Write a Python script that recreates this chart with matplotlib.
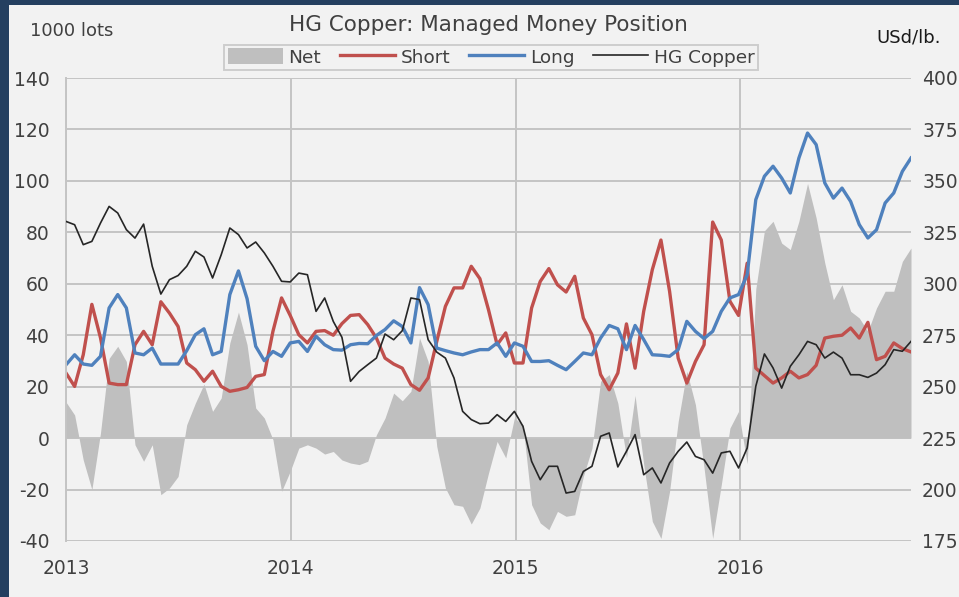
import pandas as pd
import matplotlib
matplotlib.use('Agg')
import matplotlib.pyplot as plt
import matplotlib.dates as mdates
from matplotlib.patches import Patch, Rectangle
from matplotlib.lines import Line2D

plt.rcParams['font.family'] = ['DejaVu Sans']
plt.rcParams['axes.unicode_minus'] = False

# fortnightly COT readings, 2013-01-01 .. 2016-10-04
dates = pd.date_range('2013-01-01', periods=99, freq='14D')

net = [14, 9, -8.5, -20, 2, 31, 35.7, 29.8, -2.6, -9, -2.6, -22, -19.4, -14.9, 5.2, 13.6,
       21, 10.4, 15.6, 37, 49, 36.3, 11.7, 7.8, -0.6, -20.7, -12.9, -3.9, -2.6, -3.9, -6.2, -5.2,
       -8.5, -9.7, -10.3, -9, 1.3, 7.8, 17.5, 14.5, 18.2, 38.9, 29.8, -3.2, -19.4, -25.9, -26.5, -33.4,
       -27.2, -13.6, -1.3, -7.7, 7.8, 5.2, -25.9, -33, -35.6, -28.5, -30.4, -29.8, -14.9, -3.9, 22.1, 24.7,
       13.6, -7.7, 16.6, -10.3, -32.4, -39, -20.7, 6.5, 26, 13, -11.6, -39, -18.1, 3.9, 10.4, -10,
       58, 80.6, 84.3, 75.8, 73.3, 84.3, 99, 85.6, 68.1, 53.8, 59.6, 49.3, 46.7, 41.5, 50.6, 57.1,
       57.1, 68.7, 73.9]

short = [25.3, 20.1, 32.4, 52, 39, 21.4, 20.8, 20.8, 36.3, 41.5, 36.3, 53, 48.6, 43.4, 29.2, 26.6,
         22.1, 26, 20.1, 18.2, 18.8, 19.7, 24, 24.7, 41.5, 54.5, 47.7, 40.2, 37, 41.5, 41.8, 40,
         44.5, 47.7, 48, 44.1, 38.9, 31.1, 28.8, 27.2, 20.8, 18.6, 23.4, 37.6, 51.2, 58.4, 58.4, 66.8,
         62, 49.9, 36.3, 40.9, 29.2, 29.2, 50.6, 60.9, 65.9, 59.6, 56.8, 62.9, 46.7, 40.2, 24.7, 18.8,
         25.3, 44.4, 27.2, 49.3, 65.5, 77, 57.1, 31.1, 21.4, 29.8, 36.3, 84, 77, 53.2, 47.7, 68,
         27.2, 24.3, 21.4, 23.4, 26, 23.4, 24.7, 28.3, 38.9, 39.6, 40, 42.8, 38.9, 45, 30.5, 31.8,
         37, 34.8, 33.5]

long_ = [28.5, 32.4, 28.8, 28.3, 31.8, 50.6, 55.8, 50.6, 33.1, 32.4, 35, 28.8, 28.8, 28.8, 34, 40.2,
         42.5, 32.4, 33.7, 55.8, 65, 54.2, 35.7, 30.1, 33.7, 31.8, 37, 37.6, 33.7, 39.6, 36.3, 34.4,
         34.2, 36.3, 36.8, 36.7, 39.9, 42.2, 45.6, 43.4, 37, 58.5, 51.9, 35, 34, 33.1, 32.4, 33.5,
         34.4, 34.4, 37, 31.8, 37, 35.7, 29.8, 29.8, 30.1, 28.3, 26.6, 29.8, 33.1, 32.4, 38.9, 43.8,
         42.5, 34.4, 43.8, 38.3, 32.4, 32.2, 31.8, 34.4, 45.4, 41.5, 38.7, 41.5, 49.3, 54.5, 55.8, 63.5,
         92.7, 101.8, 105.7, 101.1, 95.3, 108.9, 118.6, 114.1, 99.2, 93.3, 97.2, 92, 83, 77.8, 81, 91.4,
         95.3, 103.7, 108.9]

copper = [330.3, 328.7, 319, 320.6, 329.5, 337.6, 334.4, 326.3, 322.2, 329, 308.5, 295, 302, 304, 308.5, 315.8,
          313, 302.8, 314.1, 327.1, 323.9, 317.4, 320.3, 315, 308.5, 301.2, 300.9, 305.2, 304.4, 286.6, 293.1, 281.7,
          274, 252.6, 257.4, 260.7, 263.9, 275.6, 272.8, 277.2, 293.1, 292.3, 272.8, 266.8, 263.9, 254.2, 238, 234,
          232, 232.3, 236.4, 233.1, 238, 230.7, 213.7, 204.8, 211.3, 211.3, 198.3, 199.1, 208.8, 211.3, 225.9, 227.5,
          211, 218.6, 226.7, 207.2, 210.5, 203.2, 212.9, 218.6, 223.1, 216.1, 214.5, 208, 217.8, 218.6, 210.5, 220.2,
          250.2, 265.9, 259.1, 249.3, 259.9, 265.5, 272, 270.4, 263.9, 266.8, 263.9, 255.8, 255.8, 254.5, 256.6, 260.7,
          268, 267.2, 272]

left_ticks = list(range(-40, 141, 20))
right_ticks = list(range(175, 401, 25))

W, H = 959, 597
txt = '#404040'

fig = plt.figure(figsize=(W / 100, H / 100), dpi=100, facecolor='#243F60')
fig.patches.append(Rectangle((9 / W, 0), 1, 1 - 5 / H, transform=fig.transFigure,
                             facecolor='#F2F2F2', edgecolor='none', zorder=-5))

ax = fig.add_axes([66 / W, 1 - 541 / H, (911 - 66) / W, (541 - 78) / H])
ax.set_facecolor('none')
ax.fill_between(dates, net, 0, color='#BFBFBF', lw=0)
ax.plot(dates, short, color='#C0504D', lw=2.4)
ax.plot(dates, long_, color='#4F81BD', lw=2.4)

ax.set_ylim(-40, 140)
ax.set_yticks(left_ticks)
ax.set_xlim(dates[0], dates[-1])
ax.xaxis.set_major_locator(mdates.YearLocator())
ax.xaxis.set_major_formatter(mdates.DateFormatter('%Y'))
ax.grid(True, color='#C4C4C4', lw=1.4)
ax.set_axisbelow(True)
for s in ['top', 'right', 'bottom']:
    ax.spines[s].set_visible(False)
ax.spines['left'].set_color('#C4C4C4')
ax.spines['left'].set_linewidth(1.4)
ax.tick_params(axis='y', length=0, pad=12, labelsize=13.5, labelcolor=txt)
ax.tick_params(axis='x', length=0, pad=13, labelsize=13.5, labelcolor=txt)

ax2 = ax.twinx()
ax2.plot(dates, copper, color='#262626', lw=1.2)
ax2.set_ylim(175, 400)
ax2.set_yticks(right_ticks)
for s in ax2.spines.values():
    s.set_visible(False)
ax2.tick_params(axis='y', length=0, pad=8, labelsize=13.5, labelcolor=txt)

fig.text(488 / W, 1 - 25 / H, 'HG Copper: Managed Money Position', ha='center', va='center',
         fontsize=15.5, color=txt)
fig.text(30 / W, 1 - 31 / H, '1000 lots', ha='left', va='center', fontsize=13, color=txt)
fig.text(876 / W, 1 - 37 / H, 'USd/lb.', ha='left', va='center', fontsize=13, color='#1A1A1A')

handles = [Patch(facecolor='#BFBFBF', edgecolor='none'),
           Line2D([], [], color='#C0504D', lw=2.4),
           Line2D([], [], color='#4F81BD', lw=2.4),
           Line2D([], [], color='#262626', lw=1.2)]
leg = fig.legend(handles, ['Net', 'Short', 'Long', 'HG Copper'], loc='center',
                 bbox_to_anchor=(491 / W, 1 - 57.5 / H), ncol=4, fontsize=13.3,
                 frameon=True, fancybox=False, edgecolor='#C4C4C4', facecolor='#F2F2F2',
                 handlelength=3.0, handleheight=0.9, handletextpad=0.3, columnspacing=1.0,
                 borderpad=0.2, labelcolor=txt)
leg.get_frame().set_linewidth(1.4)

fig.savefig('out.png', dpi=100, facecolor=fig.get_facecolor())
